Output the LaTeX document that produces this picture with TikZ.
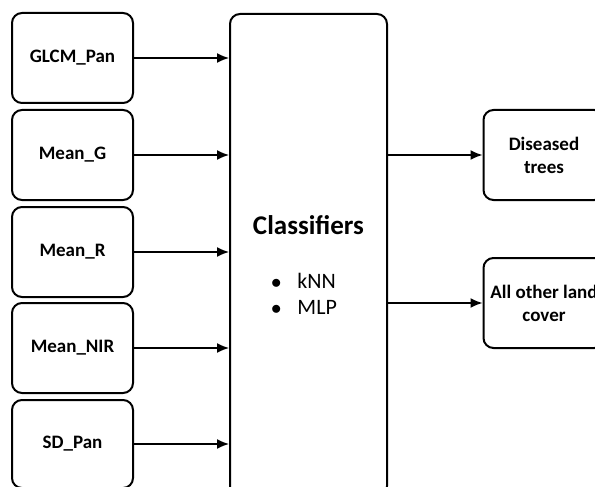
\documentclass[tikz,border=0pt]{standalone}
\usepackage{fontspec}
\setmainfont{Carlito}
\usepackage{tikz}
\usetikzlibrary{calc,arrows.meta}
\begin{document}
\begin{tikzpicture}[x=1pt,y=-1pt]
\tikzset{feature/.style = {shape=rectangle,draw,rounded corners=10pt,line width=2pt,minimum width=121pt,minimum height=90pt,font=\bfseries\fontsize{19}{23}\selectfont}}
\tikzset{result/.style = {feature,align=center,inner sep=1pt}}
\tikzset{edge/.style = {-{Latex[length=12pt,width=10pt]},line width=1.5pt}}
\useasboundingbox (0,0) rectangle (595,487);
\clip (0,0) rectangle (595,487);
%\draw (0,0) rectangle (595,487);
\node[feature] (glcm) at (72.5,58) {GLCM\_Pan};
\node[feature] (meang) at (72.5,155) {Mean\_G};
\node[feature] (meanr) at (72.5,252) {Mean\_R};
\node[feature] (meannir) at (72.5,348) {Mean\_NIR};
\node[feature,minimum height=88pt] (sdpan) at (72.5,444) {SD\_Pan};
\node[feature,minimum width=157pt,minimum height=482pt] (clf) at (308.5,255) {};
\node[font=\bfseries\fontsize{27}{32}\selectfont] (title) at (308.5,225) {Classifiers};
\node[font=\fontsize{22}{26}\selectfont,align=left] (list) at (304,294)
  {$\bullet$\hspace{16pt}kNN\\ $\bullet$\hspace{16pt}MLP};
\node[result] (dis) at (544,155) {Diseased\\ trees};
\node[result] (other) at (544,303) {All other land\\ cover};
\path[edge]
(glcm) edge (glcm -| clf.west)
(meang) edge (meang -| clf.west)
(meanr) edge (meanr -| clf.west)
(meannir) edge (meannir -| clf.west)
(sdpan) edge (sdpan -| clf.west);
\path[edge]
(dis -| clf.east) edge (dis.west)
(other -| clf.east) edge (other.west);
\end{tikzpicture}
\end{document}
